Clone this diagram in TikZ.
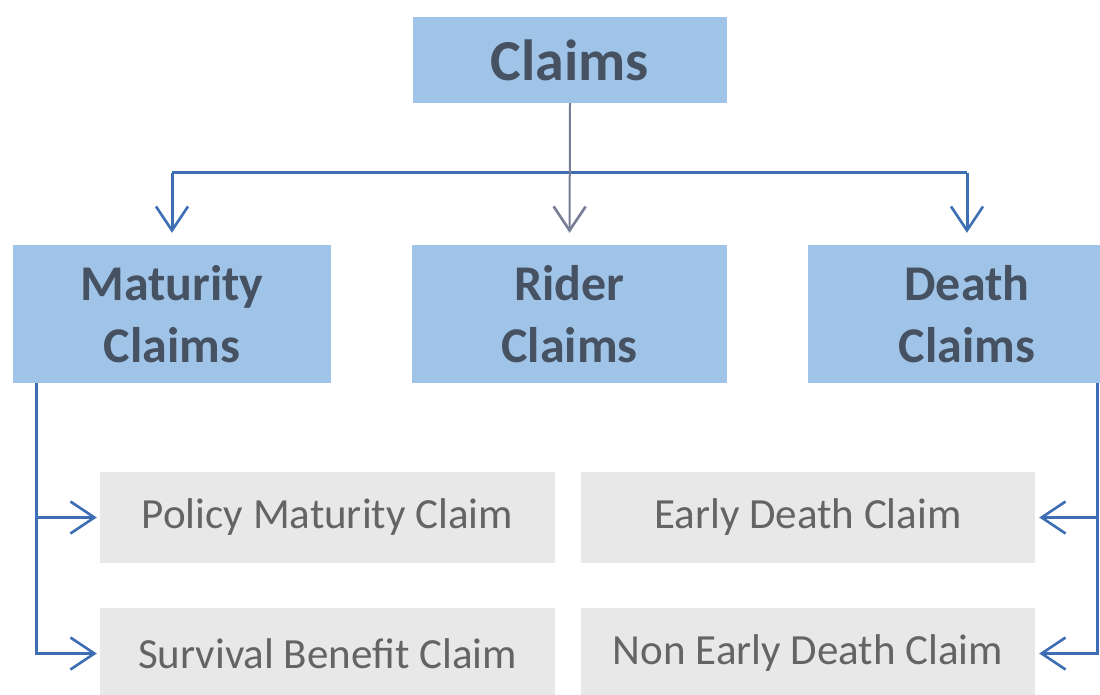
\documentclass[tikz,border=0pt]{standalone}
\usepackage{fontspec}
\setmainfont{Carlito}
\usetikzlibrary{arrows.meta}
\definecolor{boxblue}{RGB}{160,196,232}
\definecolor{boxgray}{RGB}{232,232,232}
\definecolor{headtxt}{RGB}{70,82,98}
\definecolor{subtxt}{RGB}{100,100,100}
\definecolor{linkblue}{RGB}{62,110,180}
\definecolor{stemgray}{RGB}{120,125,150}
\tikzset{
  mainbox/.style={fill=boxblue, draw=none, inner sep=0pt, align=center,
    text=headtxt, font=\bfseries\fontsize{50}{62}\selectfont,
    minimum width=318pt, minimum height=138pt},
  topbox/.style={mainbox, minimum width=314pt, minimum height=86pt,
    font=\bfseries\fontsize{58}{70}\selectfont},
  subbox/.style={fill=boxgray, draw=none, inner sep=0pt, text=subtxt,
    font=\fontsize{43}{50}\selectfont,
    minimum width=455pt, minimum height=91pt},
  link/.style={draw=linkblue, line width=3pt},
  arr/.style={link, -{Straight Barb[length=24pt,width=32pt,line width=2.6pt]}},
}
\begin{document}
\begin{tikzpicture}[x=1pt,y=-1pt]
\useasboundingbox (0,0) rectangle (1100,695);
\clip (0,0) rectangle (1100,695);
\fill[white] (0,0) rectangle (1100,695);
% nodes
\node[topbox] (claims) at (570,60) {Claims};
\node[mainbox] (mat) at (172,314) {Maturity\\Claims};
\node[mainbox, minimum width=315pt] (rider) at (569.5,314) {Rider\\Claims};
\node[mainbox] (death) at (967,314) {Death\\Claims};
\node[subbox] (pmc) at (327.5,517.5) {Policy Maturity Claim};
\node[subbox] (sbc) at (327.5,653.5) {Survival Benefit Claim};
\node[subbox, minimum width=454pt] (edc) at (808,517.5) {Early Death Claim};
\node[subbox, minimum width=454pt] (nedc) at (808,653.5) {Non Early Death Claim};
% bus coordinates
\coordinate (busL) at (172,173);
\coordinate (busR) at (967,173);
\coordinate (lx) at (36,0);
\coordinate (rx) at (1097,0);
% top connectors
\draw[link] (busL) -- (busR);
\draw[arr, shorten >=12pt] (busL) -- (mat.north);
\draw[arr, shorten >=12pt] (busR) -- (death.north);
\draw[arr, draw=stemgray, line width=2pt, shorten >=12pt] (claims.south) -- (rider.north);
% left bracket
\draw[arr, shorten >=3pt] (mat.south -| lx) |- (sbc.west);
\draw[arr, shorten >=3pt] (mat.south -| lx) |- (pmc.west);
% right bracket
\draw[arr, shorten >=4pt] (death.south -| rx) |- (nedc.east);
\draw[arr, shorten >=4pt] (death.south -| rx) |- (edc.east);
\end{tikzpicture}
\end{document}
